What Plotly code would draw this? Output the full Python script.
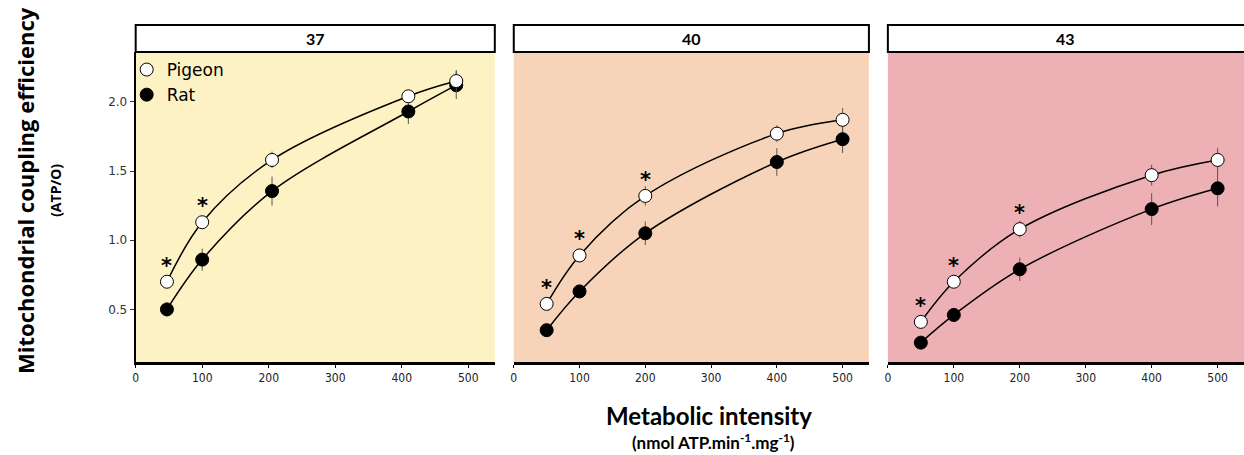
import plotly.graph_objects as go

W, H = 1244, 455

# ---- data ----
panels = ["37", "40", "43"]
x_37 = [47, 100, 205, 410, 482]
x_40 = [50, 100, 200, 400, 500]
x_43 = [50, 100, 200, 400, 500]

pigeon_37 = [0.70, 1.13, 1.58, 2.04, 2.15]
pigeon_37_err = [0.03, 0.04, 0.06, 0.04, 0.08]
rat_37 = [0.50, 0.86, 1.355, 1.93, 2.12]
rat_37_err = [0.05, 0.08, 0.105, 0.09, 0.10]

pigeon_40 = [0.54, 0.89, 1.32, 1.77, 1.87]
pigeon_40_err = [0.03, 0.05, 0.07, 0.06, 0.085]
rat_40 = [0.35, 0.63, 1.05, 1.565, 1.73]
rat_40_err = [0.03, 0.05, 0.085, 0.10, 0.10]

pigeon_43 = [0.41, 0.70, 1.08, 1.47, 1.58]
pigeon_43_err = [0.03, 0.03, 0.06, 0.075, 0.085]
rat_43 = [0.26, 0.46, 0.79, 1.225, 1.375]
rat_43_err = [0.03, 0.05, 0.085, 0.115, 0.13]

sig_37 = [True, True, False, False, False]
sig_40 = [True, True, True, False, False]
sig_43 = [True, True, True, False, False]

x_ticks = [0, 100, 200, 300, 400, 500]
y_ticks = [0.5, 1.0, 1.5, 2.0]

# ---- layout geometry (pixels) ----
bg_colors = ["#FDF2C4", "#F7D4B9", "#EDB0B5"]
px_left = [133, 512, 887]
px_right = [493, 868, 1244]
plot_top, plot_bottom, box_top = 52, 362, 25


def fx(p):
    return p / W


def fy(p):
    return (H - p) / H


xs = [x_37, x_40, x_43]
pig = [pigeon_37, pigeon_40, pigeon_43]
pig_e = [pigeon_37_err, pigeon_40_err, pigeon_43_err]
rat = [rat_37, rat_40, rat_43]
rat_e = [rat_37_err, rat_40_err, rat_43_err]
sig = [sig_37, sig_40, sig_43]

fig = go.Figure()
shapes = []
annotations = []

for i in range(3):
    ax = "" if i == 0 else str(i + 1)
    xa, ya = "x" + ax, "y" + ax
    err_style = dict(type="data", visible=True, color="#555555", thickness=1, width=0)
    fig.add_trace(go.Scatter(
        x=xs[i], y=rat[i], mode="lines+markers", xaxis=xa, yaxis=ya,
        line=dict(color="black", width=1.5, shape="spline", smoothing=1.0),
        marker=dict(symbol="circle", size=13, color="black", line=dict(color="black", width=1)),
        error_y=dict(array=rat_e[i], **err_style), showlegend=False, name="Rat"))
    fig.add_trace(go.Scatter(
        x=xs[i], y=pig[i], mode="lines+markers", xaxis=xa, yaxis=ya,
        line=dict(color="black", width=1.5, shape="spline", smoothing=1.0),
        marker=dict(symbol="circle", size=13, color="white", line=dict(color="black", width=1)),
        error_y=dict(array=pig_e[i], **err_style), showlegend=False, name="Pigeon"))

    for xv, yv, s in zip(xs[i], pig[i], sig[i]):
        if s:
            annotations.append(dict(x=xv, y=yv, xref=xa, yref=ya, text="<b>*</b>", showarrow=False,
                                    yshift=16, font=dict(family="DejaVu Sans", size=21, color="black")))

    dom = [fx(px_left[i]), min(fx(px_right[i]), 1.0)]
    layout_x = dict(domain=dom, range=[0, 540], tickvals=x_ticks, ticks="outside", ticklen=3,
                    tickcolor="black", showline=True, linecolor="black", linewidth=3,
                    showgrid=False, zeroline=False, anchor=ya,
                    tickfont=dict(family="DejaVu Sans Condensed, DejaVu Sans", size=12, color="#222"))
    layout_y = dict(domain=[fy(plot_bottom), fy(plot_top)], range=[0.12, 2.36], tickvals=y_ticks,
                    tickformat=".1f", showgrid=False, zeroline=False, anchor=xa,
                    showticklabels=(i == 0), ticks="outside" if i == 0 else "", ticklen=4,
                    tickcolor="#333", showline=(i == 0), linecolor="black", linewidth=2,
                    tickfont=dict(family="DejaVu Sans", size=12, color="#333"))
    fig.update_layout(**{"xaxis" + ax: layout_x, "yaxis" + ax: layout_y})

    # panel background
    shapes.append(dict(type="rect", xref="paper", yref="paper", layer="below",
                       x0=dom[0], x1=dom[1], y0=fy(plot_bottom), y1=fy(plot_top),
                       fillcolor=bg_colors[i], line=dict(width=0)))
    # title box
    shapes.append(dict(type="rect", xref="paper", yref="paper", layer="above",
                       x0=dom[0], x1=fx(px_right[i] + (2 if i == 2 else 0)), y0=fy(plot_top), y1=fy(box_top),
                       fillcolor="white", line=dict(color="black", width=2)))
    annotations.append(dict(x=(dom[0] + fx(px_right[i])) / 2, y=fy((plot_top + box_top) / 2),
                            xref="paper", yref="paper", xanchor="center", yanchor="middle",
                            text="<b>%s</b>" % panels[i], showarrow=False,
                            font=dict(family="Lato, Open Sans", size=16, color="black")))

# legend entries
fig.add_trace(go.Scatter(x=[None], y=[None], mode="markers", name="Pigeon",
                         marker=dict(symbol="circle", size=13, color="white", line=dict(color="black", width=1))))
fig.add_trace(go.Scatter(x=[None], y=[None], mode="markers", name="Rat",
                         marker=dict(symbol="circle", size=13, color="black", line=dict(color="black", width=1))))

# axis titles
annotations.append(dict(x=fx(22), y=fy(190), xref="paper", yref="paper", textangle=-90,
                        xanchor="center", yanchor="middle",
                        text="<b>Mitochondrial coupling efficiency</b>", showarrow=False,
                        font=dict(family="Open Sans", size=22, color="black")))
annotations.append(dict(x=fx(53), y=fy(190), xref="paper", yref="paper", textangle=-90,
                        xanchor="center", yanchor="middle",
                        text="<b>(ATP/O)</b>", showarrow=False,
                        font=dict(family="Open Sans", size=14, color="black")))
annotations.append(dict(x=fx(708), y=fy(415), xref="paper", yref="paper",
                        xanchor="center", yanchor="middle",
                        text="<b>Metabolic intensity</b>", showarrow=False,
                        font=dict(family="Liberation Sans Narrow, Lato", size=24, color="black")))
annotations.append(dict(x=fx(712), y=fy(441), xref="paper", yref="paper",
                        xanchor="center", yanchor="middle",
                        text="<b>(nmol ATP.min<sup>-1</sup>.mg<sup>-1</sup>)</b>", showarrow=False,
                        font=dict(family="Liberation Sans Narrow, Lato", size=17, color="black")))

fig.update_layout(
    width=W, height=H, margin=dict(l=0, r=0, t=0, b=0),
    paper_bgcolor="white", plot_bgcolor="rgba(0,0,0,0)",
    shapes=shapes, annotations=annotations,
    legend=dict(x=fx(124), y=fy(52), xanchor="left", yanchor="top", bgcolor="rgba(0,0,0,0)",
                font=dict(family="DejaVu Sans", size=17, color="black"), tracegroupgap=0,
                itemwidth=30),
)

fig.write_html("out.html", config={"displayModeBar": False},
               post_script="document.body.style.margin='0';document.body.style.overflow='hidden';")
